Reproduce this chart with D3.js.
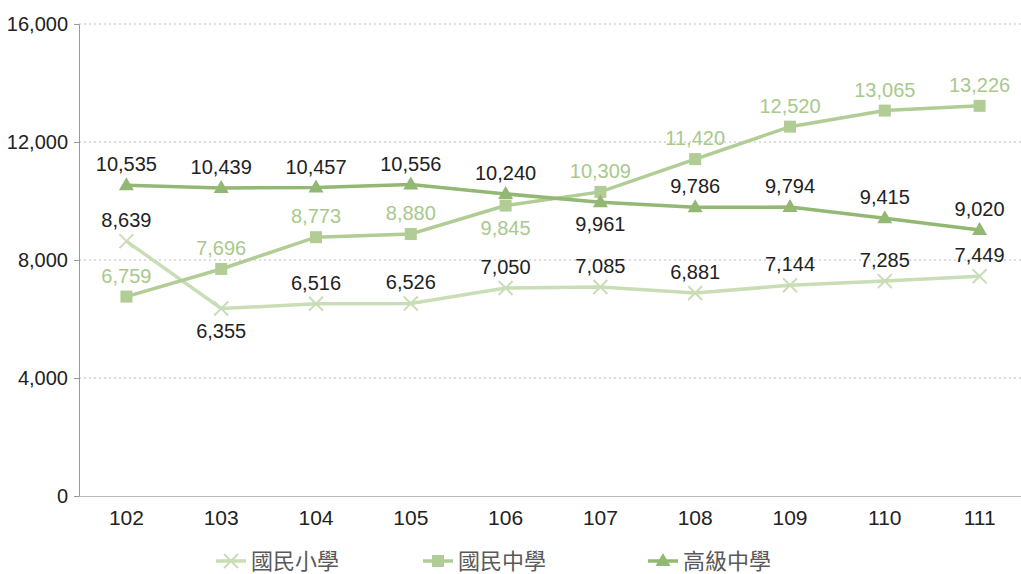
<!DOCTYPE html>
<html>
<head>
<meta charset="utf-8">
<script src="https://cdn.jsdelivr.net/npm/d3@7"></script>
<style>
  body { margin: 0; background: #fff; }
  text { font-family: "Liberation Sans", Arial, sans-serif; }
</style>
</head>
<body>
<svg id="chart" width="1021" height="574"></svg>
<script>
"use strict";

// data
const years = ['102', '103', '104', '105', '106', '107', '108', '109', '110', '111'];
const elementary = [8639, 6355, 6516, 6526, 7050, 7085, 6881, 7144, 7285, 7449];
const junior = [6759, 7696, 8773, 8880, 9845, 10309, 11420, 12520, 13065, 13226];
const senior = [10535, 10439, 10457, 10556, 10240, 9961, 9786, 9794, 9415, 9020];
const y_ticks = [0, 4000, 8000, 12000, 16000];

// label above (-1) or below (1)
const elementary_pos = [-1, 1, -1, -1, -1, -1, -1, -1, -1, -1];
const junior_pos = [-1, -1, -1, -1, 1, -1, -1, -1, -1, -1];
const senior_pos = [-1, -1, -1, -1, -1, 1, -1, -1, -1, -1];

const series = [
  { name: '國民小學', values: elementary, pos: elementary_pos, color: '#c9ddb6', label: '#222', marker: 'cross' },
  { name: '國民中學', values: junior, pos: junior_pos, color: '#b1cd95', label: '#a8c98b', marker: 'square' },
  { name: '高級中學', values: senior, pos: senior_pos, color: '#93b874', label: '#222', marker: 'triangle' }
];

const svg = d3.select('#chart');
const m_left = 79, m_right = 1027, m_top = 24, m_bottom = 496;

const x = d3.scaleBand().domain(years).range([m_left, m_right]);
const y = d3.scaleLinear().domain([0, 16000]).range([m_bottom, m_top]);
const fmt = d3.format(',');

// grid
svg.append('g')
  .selectAll('line')
  .data(y_ticks.filter(d => d > 0))
  .join('line')
  .attr('x1', m_left).attr('x2', 1021)
  .attr('y1', d => y(d)).attr('y2', d => y(d))
  .attr('stroke', '#bbb')
  .attr('stroke-dasharray', '2,3');

// y axis
const yAxis = svg.append('g')
  .attr('transform', `translate(${m_left},0)`)
  .call(d3.axisLeft(y).tickValues(y_ticks).tickFormat(fmt).tickSize(5).tickPadding(6));
yAxis.select('.domain').attr('stroke', '#999');
yAxis.selectAll('.tick line').attr('stroke', '#999');
yAxis.selectAll('.tick text').attr('font-size', 20).attr('fill', '#222');

// x axis
const xAxis = svg.append('g')
  .attr('transform', `translate(0,${m_bottom})`)
  .call(d3.axisBottom(x).tickSize(0).tickPadding(14));
xAxis.select('.domain').attr('stroke', '#bbb').attr('d', `M${m_left},0.5H1021`);
xAxis.selectAll('.tick text').attr('font-size', 21).attr('fill', '#222');

const cx = d => x(d) + x.bandwidth() / 2;

const drawMarker = (g, type, color, px, py) => {
  if (type === 'cross') {
    const s = 7;
    g.append('path')
      .attr('d', `M${px - s},${py - s}L${px + s},${py + s}M${px - s},${py + s}L${px + s},${py - s}`)
      .attr('stroke', color).attr('stroke-width', 2).attr('fill', 'none');
  } else if (type === 'square') {
    g.append('rect')
      .attr('x', px - 6).attr('y', py - 6)
      .attr('width', 12).attr('height', 12)
      .attr('fill', color);
  } else {
    g.append('path')
      .attr('d', `M${px},${py - 8}L${px + 7.5},${py + 5}L${px - 7.5},${py + 5}Z`)
      .attr('fill', color);
  }
};

const line = d3.line().x((d, i) => cx(years[i])).y(d => y(d));

series.forEach(s => {
  const g = svg.append('g');
  g.append('path')
    .datum(s.values)
    .attr('d', line)
    .attr('fill', 'none')
    .attr('stroke', s.color)
    .attr('stroke-width', 3.5);
  s.values.forEach((v, i) => drawMarker(g, s.marker, s.color, cx(years[i]), y(v)));
  g.selectAll('text')
    .data(s.values)
    .join('text')
    .attr('x', (d, i) => cx(years[i]))
    .attr('y', (d, i) => y(d) + (s.pos[i] < 0 ? -14 : 29))
    .attr('text-anchor', 'middle')
    .attr('font-size', 20)
    .attr('fill', s.label)
    .text(d => fmt(d));
});

// legend
const legend_x = [216, 423, 648];
series.forEach((s, i) => {
  const g = svg.append('g').attr('transform', `translate(${legend_x[i]},561)`);
  g.append('line').attr('x1', 0).attr('x2', 30).attr('y1', 0).attr('y2', 0)
    .attr('stroke', s.color).attr('stroke-width', 3.5);
  drawMarker(g, s.marker, s.color, 15, 0);
  g.append('text')
    .attr('x', 35).attr('y', 8)
    .attr('font-size', 22)
    .attr('fill', '#595959')
    .style('font-family', '"Noto Sans CJK TC", sans-serif')
    .text(s.name);
});
</script>
</body>
</html>
